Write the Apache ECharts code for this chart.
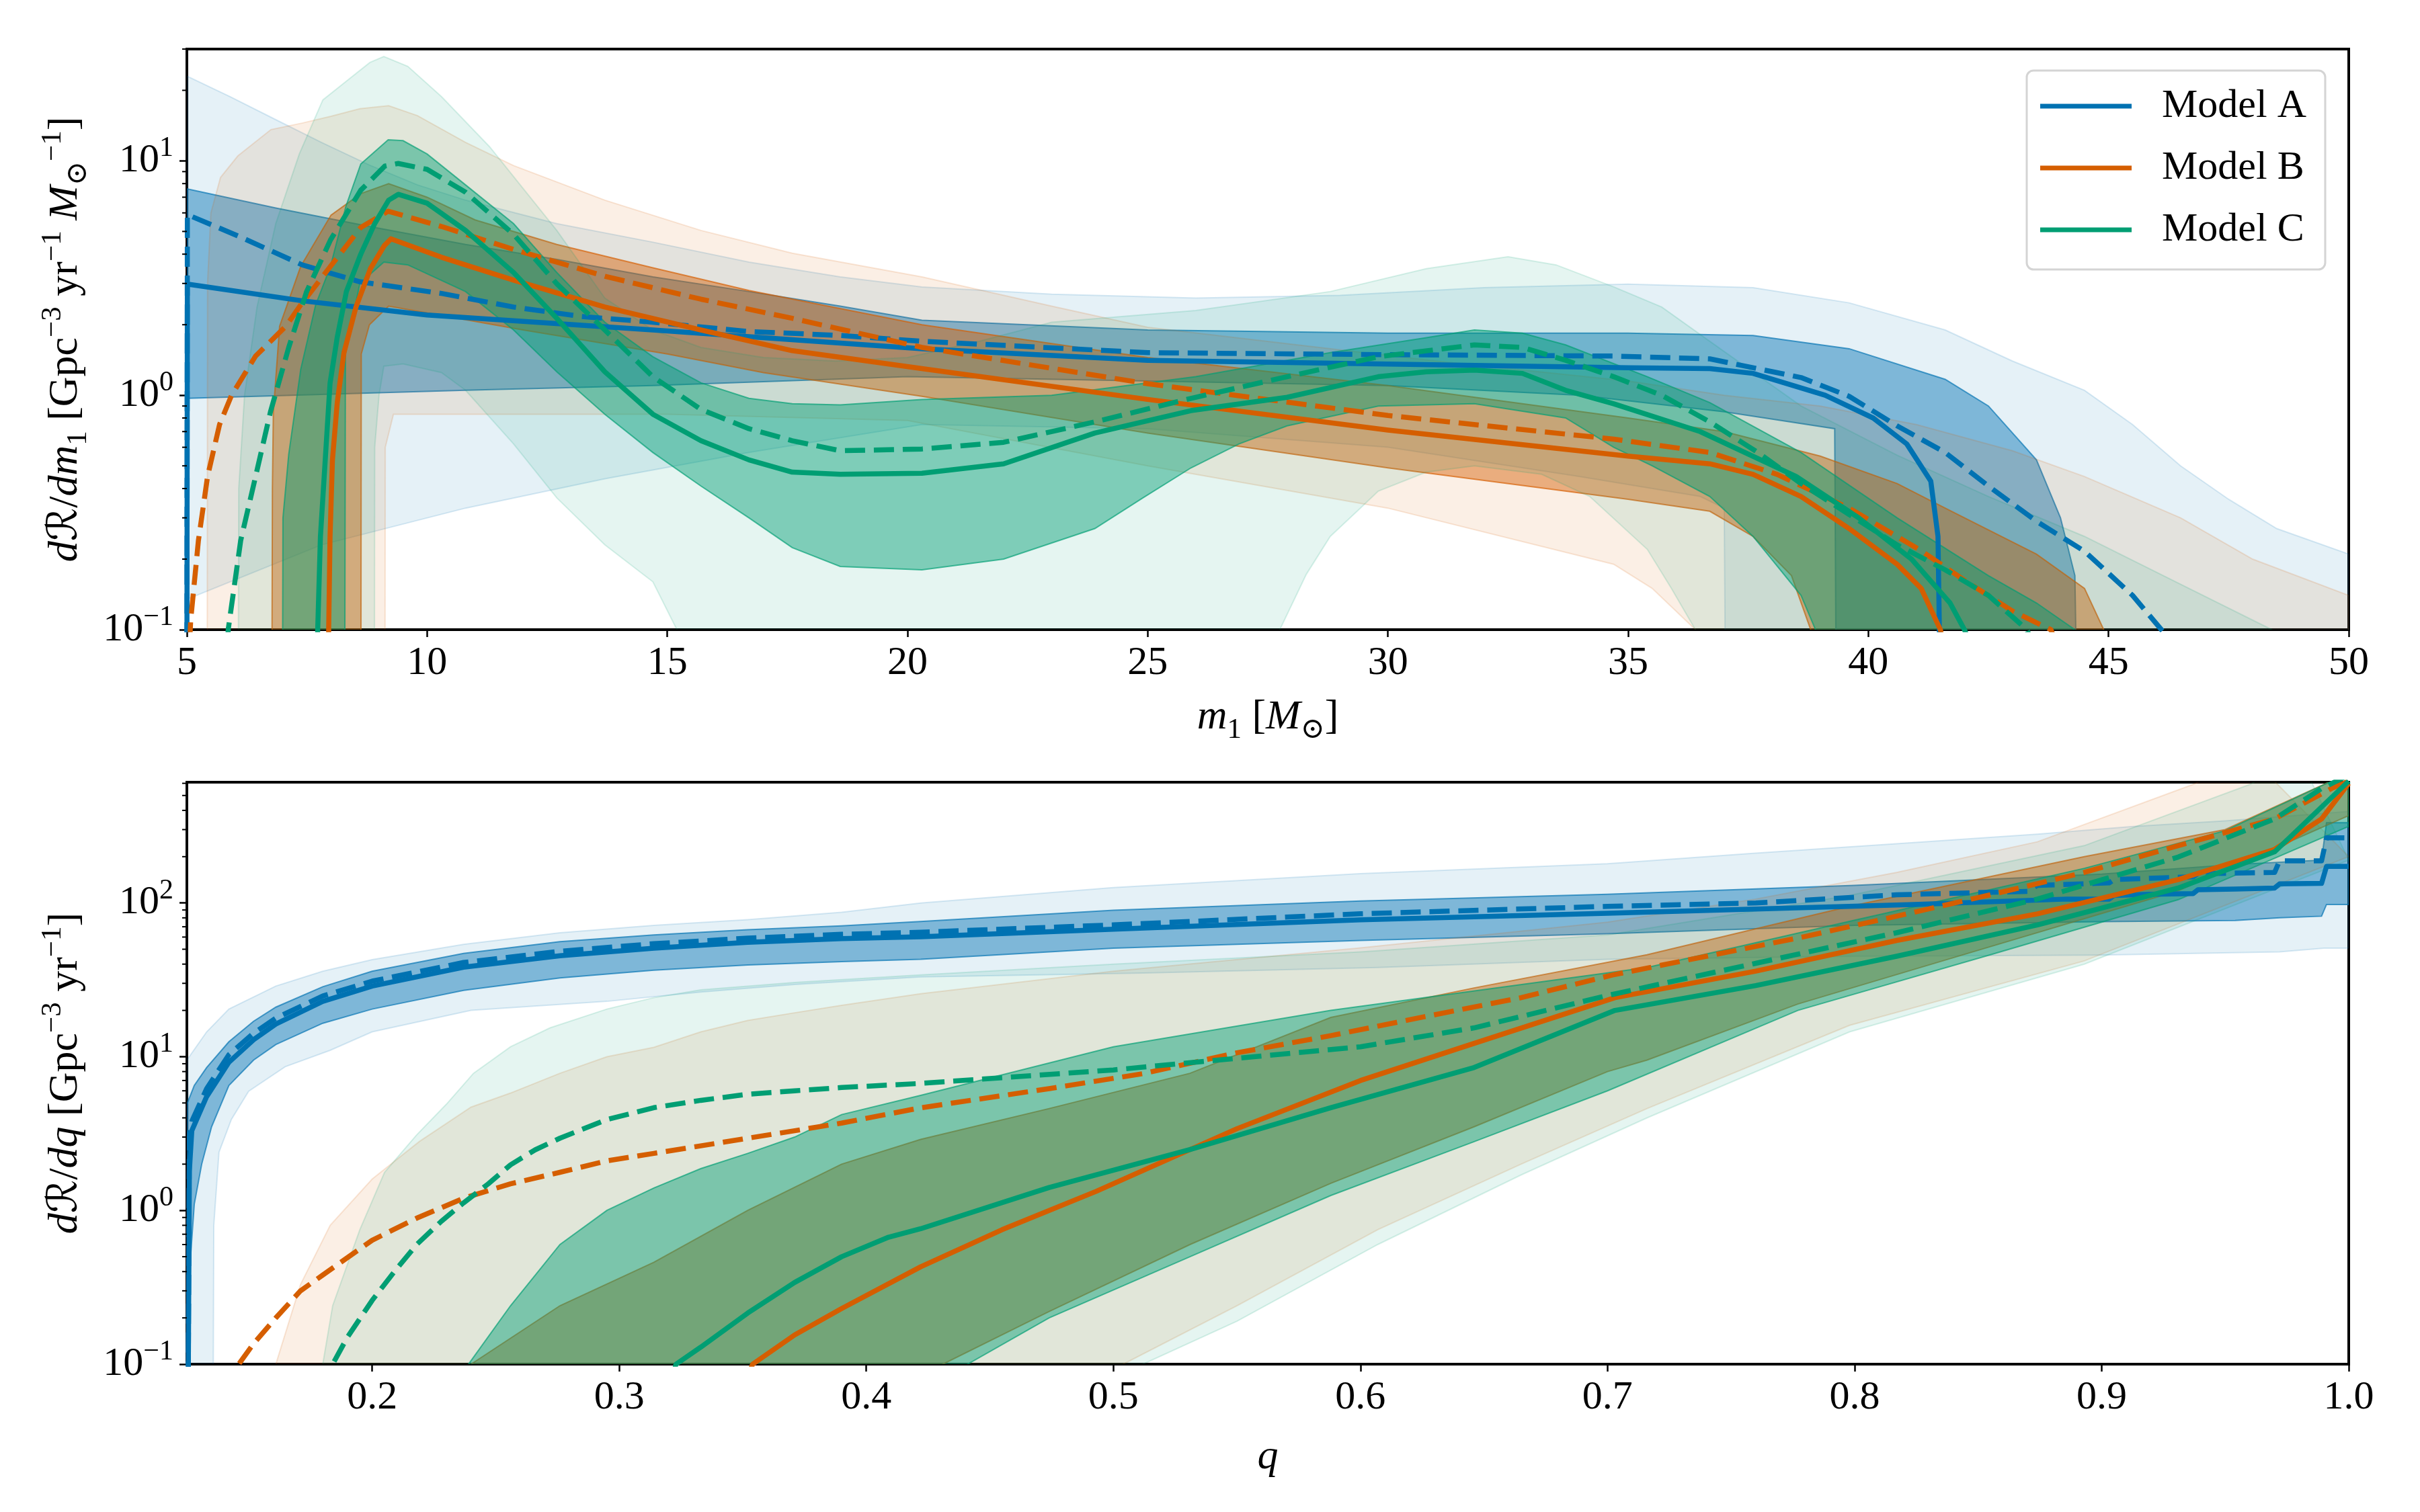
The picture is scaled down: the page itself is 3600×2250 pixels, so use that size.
<!DOCTYPE html>
<html>
<head>
<meta charset="utf-8">
<script src="https://cdn.jsdelivr.net/npm/echarts@6/dist/echarts.min.js"></script>
<style>
  html, body { margin: 0; padding: 0; background: #fff; }
  #chart { width: 3600px; height: 2250px; }
</style>
</head>
<body>
<div id="chart"></div>
<script>
// ---------- top panel: dR/dm1 vs m1 ----------
const topA90hi = [[5,23],[5.9,18.8],[6.85,15],[7.8,12],[8.8,9.6],[9.8,7.9],[10.8,6.8],[12.7,5.4],[14.7,4.5],[16.7,3.7],[18.6,3.2],[20.3,2.9],[23,2.7],[26,2.6],[29,2.67],[32,2.88],[35,2.98],[37.6,2.88],[39.6,2.48],[41.6,1.9],[43,1.4],[44.5,1.05],[45.5,0.75],[46.5,0.5],[47.5,0.36],[48.5,0.27],[50,0.21]];
const topA90lo = [[5,0.01],[5.01,0.135],[7.8,0.23],[10.8,0.33],[13.7,0.44],[16.7,0.57],[20.3,0.75],[25,0.72],[30,0.6],[34,0.45],[36.5,0.37],[37,0.33],[37.05,0.01],[50,0.01]];
const topA50hi = [[5,7.6],[6.85,6.3],[8.8,5.25],[10.8,4.4],[12.7,3.8],[14.7,3.2],[16.7,2.77],[18.6,2.4],[20.3,2.09],[25,1.9],[30,1.84],[35,1.84],[37.6,1.8],[39.6,1.58],[41.6,1.17],[42.5,0.9],[43.5,0.53],[44,0.3],[44.3,0.17],[44.4,0.01]];
const topA50lo = [[5,0.01],[5.01,0.97],[10.8,1.05],[14.7,1.1],[20,1.2],[25,1.15],[30,1.1],[34,1.0],[37,0.85],[39.3,0.72],[39.35,0.01],[44.4,0.01]];
const topAmed = [[5,0.05],[5.01,2.98],[7.4,2.53],[10,2.2],[14.7,1.9],[20.3,1.58],[25,1.41],[30,1.36],[35,1.31],[36.7,1.3],[37.6,1.24],[39.1,1.0],[40.1,0.8],[40.8,0.62],[41.3,0.43],[41.45,0.25],[41.5,0.05]];
const topAmean = [[5,0.05],[5.01,5.9],[6.1,4.75],[7.4,3.6],[8.6,3.05],[10.3,2.72],[11.8,2.38],[13.2,2.17],[14.7,2.05],[16.7,1.87],[18.6,1.8],[20.3,1.7],[25,1.52],[30,1.49],[34.7,1.47],[36.7,1.43],[38.6,1.19],[39.6,0.99],[40.6,0.74],[41.6,0.57],[42.5,0.41],[43.5,0.29],[44.5,0.216],[45.5,0.14],[46.1,0.1],[46.5,0.08]];

const topB90hi = [[5.42,0.01],[5.43,3],[5.5,6],[5.7,8.5],[6.06,10.5],[6.75,13.6],[7.4,14.5],[8,15.5],[8.6,16.7],[9.2,17.2],[9.8,15.6],[10.8,12],[11.8,9.55],[13.7,6.8],[15.7,5.05],[17.6,4.04],[20.3,3.2],[23,2.4],[25,1.95],[28,1.65],[31,1.4],[35,1.15],[37,1.0],[39,0.9],[41,0.75],[43,0.58],[44.5,0.45],[46.5,0.3],[48,0.2],[50,0.14]];
const topB90lo = [[5.42,0.01],[9.12,0.01],[9.13,0.6],[9.3,0.83],[15,0.83],[20,0.78],[25,0.5],[30,0.33],[34.7,0.19],[35.5,0.15],[36.4,0.1],[36.6,0.01],[50,0.01]];
const topB50hi = [[6.76,0.01],[6.78,0.4],[6.8,0.85],[6.93,1.97],[7.37,3.55],[8,5.87],[8.62,7.25],[9.2,8.0],[10,7.0],[11,5.6],[12.7,4.4],[14.7,3.5],[16.7,2.8],[20.3,2.0],[25,1.45],[30,1.1],[35,0.8],[37,0.7],[39,0.55],[40.6,0.42],[41.6,0.33],[43.5,0.21],[44.5,0.15],[44.9,0.1],[45,0.01]];
const topB50lo = [[6.76,0.01],[8.62,0.01],[8.63,1.5],[8.8,2.0],[9.2,2.4],[12,1.9],[15,1.5],[17,1.25],[20.3,0.99],[25,0.69],[30,0.49],[35,0.36],[36.7,0.32],[37.6,0.25],[38.4,0.17],[38.8,0.1],[38.9,0.01],[45,0.01]];
const topBmed = [[7.93,0.05],[7.98,0.25],[8.03,0.53],[8.13,0.93],[8.27,1.52],[8.52,2.38],[8.82,3.47],[9.11,4.35],[9.25,4.65],[10.3,3.88],[11.8,3.1],[13.7,2.38],[15.7,1.9],[17.6,1.55],[20.3,1.3],[25,0.96],[30,0.71],[35,0.55],[36.7,0.51],[37.6,0.46],[38.6,0.37],[39.6,0.27],[40.6,0.19],[41.1,0.15],[41.5,0.1],[41.6,0.08]];
const topBmean = [[5.0,0.05],[5.08,0.11],[5.24,0.24],[5.43,0.45],[5.68,0.75],[5.93,1.0],[6.43,1.47],[7.06,1.97],[7.37,2.43],[7.99,3.55],[8.62,5.2],[9.19,6.1],[10.3,5.25],[11.8,4.19],[13.7,3.22],[15.7,2.57],[17.6,2.13],[20.3,1.6],[25,1.12],[30,0.82],[34.7,0.65],[36.7,0.57],[38.1,0.46],[39.6,0.33],[41.1,0.217],[42.05,0.16],[43,0.12],[43.8,0.1],[44,0.08]];

const topC90hi = [[6.06,0.01],[6.08,0.4],[6.2,1.0],[6.46,2.38],[6.85,5.4],[7.34,10.7],[7.83,18.2],[8.32,21.9],[8.81,26.3],[9.1,27.9],[9.6,25.3],[10.3,18.8],[11.3,11.5],[12.7,5.05],[13.7,2.6],[14.7,1.9],[15.7,1.6],[17,1.45],[18.5,1.4],[20,1.45],[21.5,1.7],[23,2.05],[26,2.3],[28.8,2.77],[30.8,3.47],[32.5,3.9],[33.5,3.6],[34.7,2.9],[35.7,2.38],[36.7,1.7],[38.6,0.9],[40.6,0.555],[42.5,0.37],[44.5,0.25],[46.4,0.16],[48.4,0.1],[48.6,0.01]];
const topC90lo = [[6.06,0.01],[8.9,0.01],[8.91,0.6],[9.0,1.0],[9.1,1.33],[9.5,1.36],[10.3,1.25],[10.8,1.05],[11.8,0.62],[12.7,0.365],[13.7,0.23],[14.7,0.16],[15.2,0.1],[15.3,0.01],[27.6,0.01],[27.75,0.1],[28.3,0.172],[28.8,0.25],[29.4,0.326],[29.8,0.39],[30.8,0.47],[31.8,0.5],[33.2,0.46],[34.2,0.37],[35.4,0.22],[35.9,0.15],[36.4,0.1],[36.5,0.01],[48.6,0.01]];
const topC50hi = [[6.98,0.01],[7.0,0.3],[7.12,0.56],[7.37,1.29],[7.68,2.43],[7.99,3.55],[8.31,6.4],[8.62,9.7],[9.19,12.3],[9.5,12.2],[10,10.7],[10.8,7.9],[11.8,5.4],[12.7,3.34],[13.7,2.05],[14.7,1.46],[15.7,1.13],[16.7,0.97],[17.6,0.92],[18.6,0.91],[20.3,0.96],[23,1.0],[26,1.2],[28.8,1.52],[30.8,1.76],[31.8,1.9],[32.8,1.84],[33.7,1.64],[35.4,1.2],[36.7,0.93],[38.6,0.57],[40.6,0.3],[42.5,0.17],[43.5,0.13],[44.3,0.1],[44.5,0.01]];
const topC50lo = [[6.98,0.01],[8.28,0.01],[8.3,1.5],[8.6,3.0],[9.1,3.7],[9.6,3.6],[10.8,2.77],[11.8,1.9],[12.7,1.26],[13.7,0.83],[14.7,0.57],[15.7,0.41],[16.7,0.3],[17.6,0.224],[18.6,0.186],[20.3,0.18],[22,0.2],[23.9,0.27],[24.9,0.365],[25.9,0.49],[26.9,0.62],[27.9,0.74],[29.8,0.9],[31.8,0.92],[33.7,0.8],[34.7,0.6],[35.5,0.5],[36.7,0.37],[37.6,0.25],[38.6,0.14],[38.9,0.1],[39,0.01],[44.5,0.01]];
const topCmed = [[7.68,0.05],[7.78,0.25],[7.88,0.53],[7.98,1.125],[8.13,1.77],[8.32,2.77],[8.62,4.0],[8.91,5.4],[9.2,6.8],[9.4,7.2],[10,6.6],[10.8,5.05],[11.8,3.34],[12.7,2.13],[13.7,1.26],[14.7,0.83],[15.7,0.64],[16.7,0.53],[17.6,0.47],[18.6,0.46],[20.3,0.465],[22,0.51],[23.9,0.69],[25.9,0.86],[27.9,0.98],[29.8,1.2],[30.8,1.26],[31.8,1.28],[32.8,1.24],[33.7,1.05],[34.7,0.92],[36.5,0.7],[38.5,0.45],[39.8,0.3],[40.9,0.2],[41.7,0.13],[42,0.1],[42.2,0.08]];
const topCmean = [[5.8,0.05],[5.86,0.1],[6.12,0.24],[6.43,0.45],[6.74,0.85],[7.12,1.6],[7.49,2.76],[7.99,4.6],[8.62,7.5],[9.12,9.5],[9.4,9.75],[10,9.2],[10.8,7.35],[11.8,4.86],[12.7,2.99],[13.7,1.9],[14.7,1.2],[15.7,0.87],[16.7,0.72],[17.6,0.64],[18.6,0.58],[20.3,0.59],[22,0.63],[23.9,0.77],[25.9,0.97],[27.9,1.2],[29.8,1.46],[31.8,1.64],[32.8,1.6],[33.7,1.41],[34.7,1.2],[35.7,1.0],[36.7,0.77],[37.7,0.57],[38.6,0.42],[39.6,0.31],[40.6,0.23],[41.6,0.18],[42.5,0.14],[43.3,0.1],[43.5,0.08]];

// ---------- bottom panel: dR/dq vs q ----------
const botA90hi = [[0.125,9.5],[0.133,14.5],[0.142,20.4],[0.161,28.8],[0.18,36],[0.2,42.8],[0.237,53.8],[0.276,64],[0.314,71.5],[0.352,77.8],[0.39,87],[0.422,100],[0.5,126],[0.6,155],[0.7,180],[0.76,211],[0.817,243],[0.874,280],[0.912,314],[0.95,342],[1.0,394]];
const botA90lo = [[0.125,0.01],[0.1355,0.01],[0.1359,0.8],[0.138,2.39],[0.143,3.9],[0.15,5.96],[0.1648,8.6],[0.183,11],[0.2,14.5],[0.24,20],[0.295,22.9],[0.333,26.3],[0.371,29.5],[0.422,33],[0.512,35],[0.607,38],[0.7,43],[0.8,45],[0.9,45.8],[0.972,48],[0.99,50.8],[1.0,50.8]];
const botA50hi = [[0.125,4.9],[0.128,6.5],[0.133,8.5],[0.142,12.5],[0.152,17],[0.161,21],[0.18,28.5],[0.2,36],[0.237,47],[0.276,56],[0.314,62],[0.352,67],[0.39,71],[0.422,75.7],[0.5,89.7],[0.6,103],[0.7,114],[0.8,130],[0.9,154],[0.954,178],[0.989,190],[0.991,333],[1.0,333]];
const botA50lo = [[0.125,0.01],[0.1258,0.1],[0.1265,0.5],[0.128,1.1],[0.131,2.0],[0.135,3.5],[0.142,6.5],[0.152,9.5],[0.161,12],[0.18,16.5],[0.2,20.4],[0.237,27],[0.276,32.5],[0.314,36.5],[0.352,39.5],[0.39,41.5],[0.422,43],[0.5,50.8],[0.6,57],[0.7,63],[0.8,71.5],[0.9,75.6],[0.954,77],[0.972,80],[0.989,82],[0.991,97.7],[1.0,97.7]];
const botAmed = [[0.1255,0.05],[0.126,1.8],[0.127,3.3],[0.133,5.5],[0.142,9.2],[0.152,12.9],[0.161,16.3],[0.18,22.9],[0.2,28.8],[0.237,38.2],[0.276,45.3],[0.314,50.8],[0.352,55.4],[0.39,58.6],[0.422,60.3],[0.5,67.5],[0.6,77.6],[0.7,85.8],[0.824,97.7],[0.886,106],[0.903,106],[0.905,112],[0.92,114],[0.937,115],[0.939,122],[0.954,123],[0.97,125],[0.972,133],[0.989,134],[0.991,173],[1.0,173]];
const botAmean = [[0.1255,0.05],[0.126,3.0],[0.127,3.8],[0.133,6.2],[0.142,10.3],[0.152,14.2],[0.161,17.8],[0.18,24.8],[0.2,31],[0.237,41],[0.276,48.5],[0.314,54.3],[0.352,59],[0.39,62.5],[0.422,64.5],[0.5,72],[0.6,85],[0.7,95],[0.76,100],[0.817,113],[0.87,119],[0.874,130],[0.903,135],[0.905,142],[0.937,148],[0.939,155],[0.97,158],[0.972,188],[0.989,188],[0.991,265],[1.0,265]];

const botB90hi = [[0.16,0.07],[0.161,0.1],[0.171,0.33],[0.183,0.8],[0.2,1.6],[0.219,2.8],[0.24,4.7],[0.256,5.8],[0.276,7.8],[0.295,10],[0.314,11.5],[0.333,14.5],[0.352,17.2],[0.371,19.3],[0.39,21.6],[0.422,25.7],[0.5,36],[0.6,51],[0.7,75],[0.76,106],[0.817,158],[0.874,250],[0.937,590],[0.96,900]];
const botB90lo = [[0.16,0.01],[0.5,0.01],[0.504,0.1],[0.55,0.24],[0.607,0.75],[0.665,2.0],[0.716,4.6],[0.798,16],[0.893,42],[1.0,200]];
const botB50hi = [[0.238,0.07],[0.24,0.1],[0.276,0.24],[0.314,0.46],[0.352,1.0],[0.39,2.0],[0.422,2.9],[0.474,4.6],[0.531,7.8],[0.588,18],[0.646,28],[0.716,46],[0.798,95],[0.893,200],[0.95,300],[1.0,700]];
const botB50lo = [[0.238,0.01],[0.43,0.01],[0.431,0.1],[0.474,0.22],[0.531,0.6],[0.588,1.5],[0.646,3.5],[0.7,8],[0.716,9.5],[0.777,22],[0.855,52],[0.931,120],[1.0,370]];
const botBmed = [[0.35,0.07],[0.354,0.1],[0.371,0.155],[0.39,0.23],[0.422,0.43],[0.455,0.75],[0.493,1.33],[0.55,3.4],[0.6,7.0],[0.646,12.2],[0.703,24.2],[0.76,36],[0.817,57],[0.874,85],[0.931,142],[0.97,223],[0.989,352],[1.0,600]];
const botBmean = [[0.14,0.07],[0.146,0.1],[0.152,0.136],[0.161,0.2],[0.171,0.3],[0.18,0.38],[0.2,0.64],[0.218,0.89],[0.237,1.2],[0.256,1.49],[0.276,1.77],[0.295,2.1],[0.314,2.35],[0.333,2.63],[0.352,2.95],[0.371,3.3],[0.39,3.7],[0.422,4.65],[0.474,6.2],[0.512,7.76],[0.55,10.6],[0.588,13.7],[0.626,18.2],[0.665,24.2],[0.702,34],[0.74,45],[0.779,60],[0.817,82],[0.855,113],[0.893,158],[0.931,236],[0.97,352],[0.993,555],[1.0,620]];

const botC90hi = [[0.178,0.07],[0.18,0.1],[0.184,0.24],[0.195,0.75],[0.205,1.77],[0.218,3.1],[0.23,4.9],[0.241,7.8],[0.256,11.6],[0.272,15.4],[0.295,20.4],[0.314,24.2],[0.333,27.2],[0.371,30.4],[0.422,34],[0.5,40],[0.6,48],[0.7,62],[0.798,112],[0.893,236],[0.96,590],[0.98,900]];
const botC90lo = [[0.18,0.01],[0.51,0.01],[0.512,0.1],[0.55,0.19],[0.607,0.6],[0.665,1.7],[0.716,4.0],[0.798,14.5],[0.893,40],[1.0,190]];
const botC50hi = [[0.237,0.07],[0.239,0.1],[0.256,0.24],[0.276,0.6],[0.295,1.0],[0.314,1.4],[0.333,1.87],[0.352,2.35],[0.371,3.0],[0.39,4.2],[0.422,5.6],[0.5,11.6],[0.588,20],[0.716,38],[0.798,76],[0.893,168],[0.95,295],[1.0,700]];
const botC50lo = [[0.237,0.01],[0.44,0.01],[0.441,0.1],[0.474,0.2],[0.531,0.5],[0.588,1.25],[0.646,2.8],[0.7,6],[0.777,20],[0.855,46],[0.931,105],[1.0,315]];
const botCmed = [[0.32,0.07],[0.323,0.1],[0.333,0.129],[0.352,0.215],[0.371,0.34],[0.39,0.5],[0.409,0.67],[0.422,0.76],[0.474,1.41],[0.531,2.49],[0.588,4.66],[0.646,8.5],[0.703,20],[0.76,29],[0.817,45],[0.874,72],[0.931,125],[0.97,215],[1.0,620]];
const botCmean = [[0.18,0.07],[0.184,0.1],[0.19,0.15],[0.2,0.26],[0.209,0.4],[0.218,0.6],[0.228,0.85],[0.237,1.12],[0.247,1.49],[0.256,1.98],[0.266,2.48],[0.276,2.95],[0.295,3.9],[0.314,4.66],[0.333,5.2],[0.352,5.7],[0.371,6.0],[0.39,6.3],[0.422,6.7],[0.5,8.2],[0.6,11.6],[0.646,15.4],[0.7,25],[0.76,40.5],[0.817,64],[0.874,106],[0.931,199],[0.97,352],[0.989,555],[1.0,680]];

// ticks
const topMajor = [0.1, 1, 10];
const botMajor = [0.1, 1, 10, 100];
const topMinor = [0.2,0.3,0.4,0.5,0.6,0.7,0.8,0.9,2,3,4,5,6,7,8,9,20,30];
const botMinor = [0.2,0.3,0.4,0.5,0.6,0.7,0.8,0.9,2,3,4,5,6,7,8,9,20,30,40,50,60,70,80,90,200,300,400,500,600];
const qTicks = [0.2,0.3,0.4,0.5,0.6,0.7,0.8,0.9,1.0];

const colA = '#0072B2', colB = '#D55E00', colC = '#009E73';
const FONT = "'Liberation Serif', 'DejaVu Serif', 'DejaVu Sans', serif";
const FS = 60;
const NFS = 62;

function rgba(hex, a) {
  const n = parseInt(hex.slice(1), 16);
  return 'rgba(' + (n >> 16) + ',' + ((n >> 8) & 255) + ',' + (n & 255) + ',' + a + ')';
}

// filled band between hi and lo curves
function band(hi, lo, color, alpha, panel) {
  const pts = hi.concat(lo.slice().reverse());
  return {
    type: 'custom', xAxisIndex: panel, yAxisIndex: panel, clip: true, silent: true, z: 2,
    data: [pts[0]],
    renderItem: (params, api) => ({
      type: 'polygon',
      shape: { points: pts.map(p => api.coord(p)) },
      style: { fill: rgba(color, alpha), stroke: rgba(color, Math.min(alpha * 1.5, 1)), lineWidth: 2 }
    })
  };
}

function curve(name, data, color, dashed, panel) {
  return {
    type: 'line', name: name, data: data, xAxisIndex: panel, yAxisIndex: panel,
    symbol: 'none', showSymbol: false, silent: true, z: 3, clip: true, smooth: false,
    lineStyle: { color: color, width: 7.5, type: dashed ? [30, 13] : 'solid', cap: 'butt', join: 'round' },
    itemStyle: { color: color }
  };
}

function minorTicks(vals, xmin, panel) {
  return {
    type: 'custom', xAxisIndex: panel, yAxisIndex: panel, clip: false, silent: true, z: 6,
    data: vals.map(v => [xmin, v]),
    renderItem: (params, api) => {
      const p = api.coord([api.value(0), api.value(1)]);
      return { type: 'line', shape: { x1: p[0] - 7, y1: p[1], x2: p[0], y2: p[1] }, style: { stroke: '#000', lineWidth: 2 } };
    }
  };
}

function richSet(fs) {
  const s = Math.round(fs * 0.7);
  return {
    t: { fontSize: fs, fontFamily: FONT, color: '#000', lineHeight: Math.round(fs * 1.3), verticalAlign: 'middle' },
    i: { fontSize: fs, fontFamily: FONT, fontStyle: 'italic', color: '#000', lineHeight: Math.round(fs * 1.3), verticalAlign: 'middle' },
    sup: { fontSize: s, fontFamily: FONT, color: '#000', lineHeight: s, verticalAlign: 'top' },
    sub: { fontSize: s, fontFamily: FONT, color: '#000', lineHeight: s, verticalAlign: 'bottom' }
  };
}
const tickRich = richSet(FS);
const nameRich = richSet(NFS);

function powLabel(v) {
  const e = Math.round(Math.log10(v));
  return '{t|10}{sup|' + (e < 0 ? '\u2212' + (-e) : e) + '}';
}

function xAxisBase(grid) {
  return {
    gridIndex: grid, type: 'value', nameLocation: 'middle',
    axisLine: { show: true, lineStyle: { color: '#000', width: 4 } },
    axisTick: { show: true, inside: false, length: 11, lineStyle: { color: '#000', width: 2.5 } },
    axisLabel: { color: '#000', fontSize: FS, fontFamily: FONT, margin: 20 },
    splitLine: { show: false },
    nameTextStyle: { rich: nameRich }
  };
}
function yAxisBase(grid, max, major) {
  return {
    gridIndex: grid, type: 'log', logBase: 10, min: 0.1, max: max, nameLocation: 'middle', nameRotate: 90,
    axisLine: { show: true, lineStyle: { color: '#000', width: 4 } },
    axisTick: { show: true, inside: false, length: 11, customValues: major, lineStyle: { color: '#000', width: 2.5 } },
    axisLabel: { formatter: powLabel, rich: tickRich, margin: 20, customValues: major },
    splitLine: { show: false },
    nameTextStyle: { rich: nameRich }
  };
}

const series = [
  band(topA90hi, topA90lo, colA, 0.1, 0), band(topA50hi, topA50lo, colA, 0.45, 0),
  band(topB90hi, topB90lo, colB, 0.1, 0), band(topB50hi, topB50lo, colB, 0.45, 0),
  band(topC90hi, topC90lo, colC, 0.1, 0), band(topC50hi, topC50lo, colC, 0.45, 0),
  curve('Model A', topAmed, colA, false, 0), curve('A mean', topAmean, colA, true, 0),
  curve('Model B', topBmed, colB, false, 0), curve('B mean', topBmean, colB, true, 0),
  curve('Model C', topCmed, colC, false, 0), curve('C mean', topCmean, colC, true, 0),

  band(botA90hi, botA90lo, colA, 0.1, 1), band(botA50hi, botA50lo, colA, 0.45, 1),
  band(botB90hi, botB90lo, colB, 0.1, 1), band(botB50hi, botB50lo, colB, 0.45, 1),
  band(botC90hi, botC90lo, colC, 0.1, 1), band(botC50hi, botC50lo, colC, 0.45, 1),
  curve('Model A', botAmed, colA, false, 1), curve('A mean q', botAmean, colA, true, 1),
  curve('Model B', botBmed, colB, false, 1), curve('B mean q', botBmean, colB, true, 1),
  curve('Model C', botCmed, colC, false, 1), curve('C mean q', botCmean, colC, true, 1),

  minorTicks(topMinor, 5, 0), minorTicks(botMinor, 0.125, 1)
];

const option = {
  animation: false,
  backgroundColor: '#fff',
  grid: [
    { left: 278, top: 73, width: 3216, height: 864, show: true, borderColor: '#000', borderWidth: 4, backgroundColor: 'transparent' },
    { left: 278, top: 1164, width: 3216, height: 866, show: true, borderColor: '#000', borderWidth: 4, backgroundColor: 'transparent' }
  ],
  xAxis: [
    Object.assign(xAxisBase(0), {
      min: 5, max: 50, interval: 5,
      name: '{i|m}{sub|1}{t| [}{i|M}{sub|\u2299}{t|]}', nameGap: 90
    }),
    Object.assign(xAxisBase(1), {
      min: 0.125, max: 1.0,
      axisTick: { show: true, inside: false, length: 11, customValues: qTicks, lineStyle: { color: '#000', width: 2.5 } },
      axisLabel: { color: '#000', fontSize: FS, fontFamily: FONT, margin: 20, customValues: qTicks, formatter: v => v.toFixed(1) },
      name: '{i|q}', nameGap: 98
    })
  ],
  yAxis: [
    Object.assign(yAxisBase(0, 30, topMajor), {
      name: '{i|d}{t|\u211B/}{i|dm}{sub|1}{t| [Gpc}{sup|\u22123}{t| yr}{sup|\u22121}{t| }{i|M}{sub|\u2299}{sup|\u22121}{t|]}',
      nameGap: 140
    }),
    Object.assign(yAxisBase(1, 610, botMajor), {
      name: '{i|d}{t|\u211B/}{i|dq}{t| [Gpc}{sup|\u22123}{t| yr}{sup|\u22121}{t|]}',
      nameGap: 140
    })
  ],
  legend: {
    data: ['Model A', 'Model B', 'Model C'],
    orient: 'vertical', left: 3015, top: 105,
    icon: 'rect', itemWidth: 136, itemHeight: 7, itemGap: 22,
    padding: [18, 28, 24, 20],
    backgroundColor: '#fff', borderColor: '#d4d4d4', borderWidth: 3, borderRadius: 10,
    selectedMode: false,
    textStyle: { color: '#000', fontSize: FS, fontFamily: FONT, lineHeight: 70, padding: [0, 0, 0, 40] }
  },
  series: series
};

const chart = echarts.init(document.getElementById('chart'), null, { renderer: 'canvas', devicePixelRatio: 1 });
chart.setOption(option);
</script>
</body>
</html>
